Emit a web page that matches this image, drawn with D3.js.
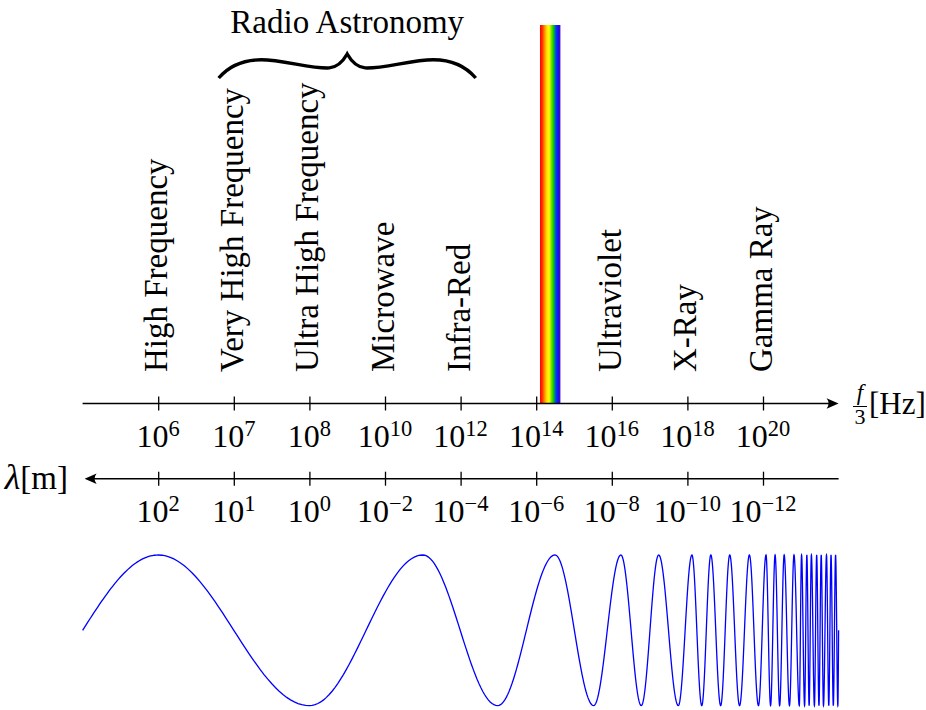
<!DOCTYPE html>
<html>
<head>
<meta charset="utf-8">
<script src="https://cdn.jsdelivr.net/npm/d3@7"></script>
<style>
  html, body { margin: 0; padding: 0; background: #fff; }
  svg { display: block; }
  text { font-family: "Liberation Serif", "Times New Roman", serif; fill: #000; }
</style>
</head>
<body>
<div id="chart"></div>
<script>
// Axis positions (in axis units, 0..10) and their labels
const tickPositions = [1, 2, 3, 4, 5, 6, 7, 8, 9];
const freqExponents = ["6", "7", "8", "10", "12", "14", "16", "18", "20"];
const waveExponents = ["2", "1", "0", "−2", "−4", "−6", "−8", "−10", "−12"];

// Named bands of the spectrum and where they sit on the axis
const bandNames = ["High Frequency", "Very High Frequency", "Ultra High Frequency",
                   "Microwave", "Infra-Red", "Ultraviolet", "X-Ray", "Gamma Ray"];
const bandPositions = [1, 2, 3, 4, 5, 7, 8, 9];

// Span covered by the "Radio Astronomy" brace, and the visible-light band
const radioSpan = [1.8, 5.2];
const visibleBand = [6.05, 6.32];
const visibleColors = ["#ff0000", "#ff3000", "#ff8c00", "#ffe000", "#ffff00",
                       "#7fe000", "#00c800", "#0040ff", "#1010f0", "#5000b0"];

// Successive crests/troughs of the illustrative wave (axis units)
const waveExtrema = [1.0, 3.0, 4.5, 5.49, 6.25, 6.76, 7.12, 7.39, 7.62, 7.88,
                     8.06, 8.19, 8.31, 8.44, 8.56, 8.69, 8.82, 8.94, 9.04, 9.10,
                     9.16, 9.22, 9.28, 9.35, 9.41, 9.48, 9.51, 9.55, 9.58, 9.61,
                     9.64, 9.68, 9.71, 9.74, 9.77, 9.80, 9.84, 9.87, 9.90, 9.93,
                     9.96, 9.99];
const waveRange = [0, 10];

const W = 926, H = 710;
const svg = d3.select("#chart").append("svg").attr("width", W).attr("height", H);

const x = d3.scaleLinear().domain([0, 10]).range([82.6, 838.6]);
const freqY = 403.5, lambdaY = 478.7;

// arrow head, tip at (xt, y), pointing in direction dir (+1 right, -1 left)
function arrowHead(xt, y, dir) {
  const p = d3.path();
  p.moveTo(xt, y);
  p.lineTo(xt - dir * 12, y - 5.2);
  p.quadraticCurveTo(xt - dir * 8, y, xt - dir * 12, y + 5.2);
  p.closePath();
  return p.toString();
}

// ---- visible light band (behind the axis) ----
const defs = svg.append("defs");
const grad = defs.append("linearGradient").attr("id", "rainbow")
  .attr("x1", "0%").attr("x2", "100%").attr("y1", "0%").attr("y2", "0%");
visibleColors.forEach((c, i) => {
  grad.append("stop").attr("offset", (i / (visibleColors.length - 1) * 100) + "%").attr("stop-color", c);
});
svg.append("rect")
  .attr("x", x(visibleBand[0])).attr("width", x(visibleBand[1]) - x(visibleBand[0]))
  .attr("y", 25).attr("height", freqY - 25)
  .attr("fill", "url(#rainbow)");

// ---- frequency axis ----
svg.append("line").attr("x1", x(0)).attr("x2", x(10) - 6)
  .attr("y1", freqY).attr("y2", freqY).attr("stroke", "#000").attr("stroke-width", 1.6);
svg.append("path").attr("d", arrowHead(x(10), freqY, 1)).attr("fill", "#000");

const fAxis = svg.append("g").attr("transform", `translate(0,${freqY})`)
  .call(d3.axisBottom(x).tickValues(tickPositions).tickSize(7).tickFormat(""));
fAxis.select(".domain").remove();
fAxis.selectAll(".tick line").attr("y1", -7).attr("stroke", "#000").attr("stroke-width", 1.3);

// ---- wavelength axis ----
svg.append("line").attr("x1", x(0) + 8).attr("x2", x(10))
  .attr("y1", lambdaY).attr("y2", lambdaY).attr("stroke", "#000").attr("stroke-width", 1.6);
svg.append("path").attr("d", arrowHead(x(0) + 2, lambdaY, -1)).attr("fill", "#000");

const lAxis = svg.append("g").attr("transform", `translate(0,${lambdaY})`)
  .call(d3.axisBottom(x).tickValues(tickPositions).tickSize(7).tickFormat(""));
lAxis.select(".domain").remove();
lAxis.selectAll(".tick line").attr("y1", -7).attr("stroke", "#000").attr("stroke-width", 1.3);

// ---- power-of-ten tick labels ----
function powerLabels(exps, y) {
  const t = svg.append("g").selectAll("text").data(exps).join("text")
    .attr("x", (d, i) => x(tickPositions[i]))
    .attr("y", y)
    .attr("text-anchor", "middle")
    .attr("font-size", 32);
  t.append("tspan").text("10");
  t.append("tspan").attr("dy", -11).attr("font-size", 22.5).text(d => d);
}
powerLabels(freqExponents, freqY + 43.5);
powerLabels(waveExponents, lambdaY + 43.5);

// ---- axis titles ----
const fx = 860;
svg.append("text").attr("x", fx).attr("y", 400).attr("text-anchor", "middle")
  .attr("font-size", 23).attr("font-style", "italic").text("f");
svg.append("line").attr("x1", fx - 7).attr("x2", fx + 7).attr("y1", 406.5).attr("y2", 406.5)
  .attr("stroke", "#000").attr("stroke-width", 1);
svg.append("text").attr("x", fx).attr("y", 423.5).attr("text-anchor", "middle")
  .attr("font-size", 22).text("3");
svg.append("text").attr("x", 869).attr("y", 414).attr("font-size", 31).text("[Hz]");

const lam = svg.append("text").attr("x", 68).attr("y", 489).attr("text-anchor", "end").attr("font-size", 33);
lam.append("tspan").attr("font-style", "italic").attr("font-size", 36).text("λ");
lam.append("tspan").text("[m]");

// ---- band names, written upward ----
svg.append("g").selectAll("text").data(bandNames).join("text")
  .attr("transform", (d, i) => `translate(${x(bandPositions[i]) + 9},372) rotate(-90)`)
  .attr("font-size", 33)
  .text(d => d);

// ---- Radio Astronomy brace ----
function bracePath(x0, x1, yb, amp) {
  const w = (x1 - x0) / 2, xm = x0 + w;
  const p = d3.path();
  p.moveTo(x0, yb);
  p.bezierCurveTo(x0 + 0.08 * w, yb - 0.5 * amp, x0 + 0.2 * w, yb - 0.76 * amp, x0 + 0.33 * w, yb - 0.76 * amp);
  p.bezierCurveTo(x0 + 0.5 * w, yb - 0.76 * amp, x0 + 0.72 * w, yb - 0.38 * amp, x0 + 0.86 * w, yb - 0.42 * amp);
  p.bezierCurveTo(x0 + 0.93 * w, yb - 0.45 * amp, x0 + 0.97 * w, yb - 0.72 * amp, xm, yb - amp);
  p.bezierCurveTo(x1 - 0.97 * w, yb - 0.72 * amp, x1 - 0.93 * w, yb - 0.45 * amp, x1 - 0.86 * w, yb - 0.42 * amp);
  p.bezierCurveTo(x1 - 0.72 * w, yb - 0.38 * amp, x1 - 0.5 * w, yb - 0.76 * amp, x1 - 0.33 * w, yb - 0.76 * amp);
  p.bezierCurveTo(x1 - 0.2 * w, yb - 0.76 * amp, x1 - 0.08 * w, yb - 0.5 * amp, x1, yb);
  return p.toString();
}
svg.append("path")
  .attr("d", bracePath(x(radioSpan[0]), x(radioSpan[1]), 78, 24))
  .attr("fill", "none").attr("stroke", "#000").attr("stroke-width", 3.4);
svg.append("text")
  .attr("x", (x(radioSpan[0]) + x(radioSpan[1])) / 2).attr("y", 33)
  .attr("text-anchor", "middle").attr("font-size", 33)
  .text("Radio Astronomy");

// ---- illustrative wave: sinusoidal arcs between successive extrema ----
const yWave = d3.scaleLinear().domain([-1, 1]).range([705.6, 555]);
const nodes = [waveRange[0], ...waveExtrema, waveRange[1]];
const levels = nodes.map((d, i) => (i === 0 || i === nodes.length - 1) ? 0 : (i % 2 === 1 ? 1 : -1));
const wavePts = [];
for (let k = 0; k < nodes.length - 1; k++) {
  const a = nodes[k], b = nodes[k + 1], la = levels[k], lb = levels[k + 1];
  const n = 40;
  for (let j = (k === 0 ? 0 : 1); j <= n; j++) {
    const s = j / n;
    let v;
    if (la === 0) v = lb * Math.sin(Math.PI / 2 * s);
    else if (lb === 0) v = la * Math.cos(Math.PI / 2 * s);
    else v = la * Math.cos(Math.PI * s);
    wavePts.push([a + (b - a) * s, v]);
  }
}
svg.append("path")
  .datum(wavePts)
  .attr("d", d3.line().x(d => x(d[0])).y(d => yWave(d[1])))
  .attr("fill", "none").attr("stroke", "#0000ff").attr("stroke-width", 1.3);
</script>
</body>
</html>
